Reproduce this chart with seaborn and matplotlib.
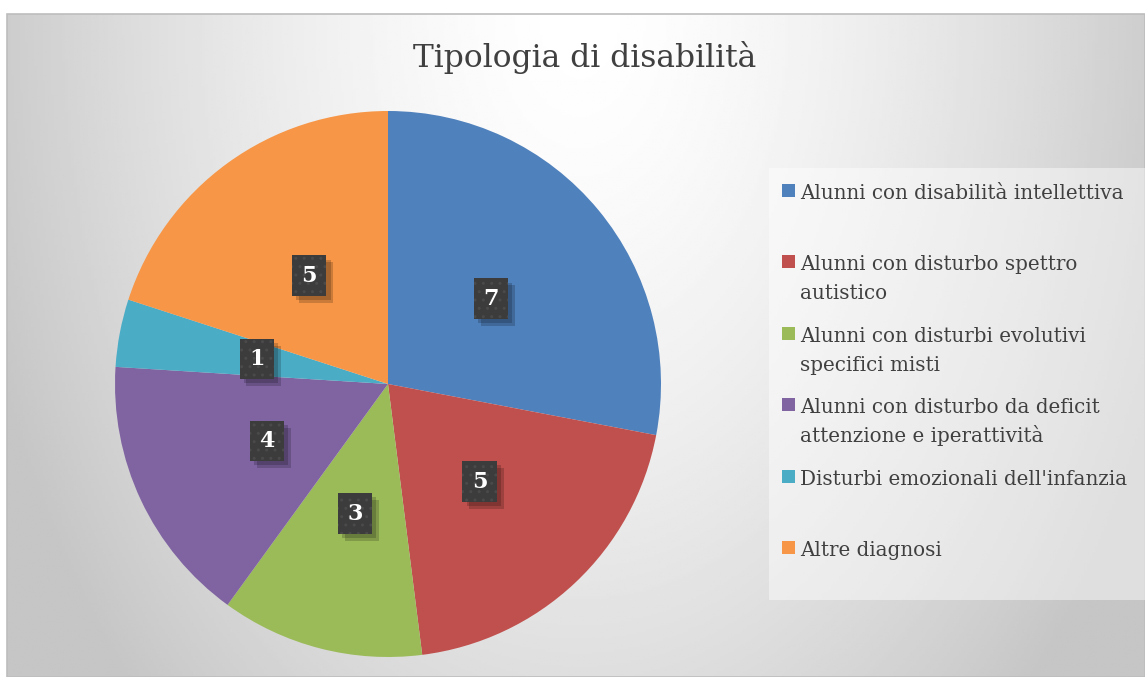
import numpy as np
import matplotlib
matplotlib.use("Agg")
import matplotlib.pyplot as plt
import matplotlib.patheffects as pe
from matplotlib.patches import Rectangle
import seaborn as sns

# dati
categorie = [
    "Alunni con disabilità intellettiva",
    "Alunni con disturbo spettro\nautistico",
    "Alunni con disturbi evolutivi\nspecifici misti",
    "Alunni con disturbo da deficit\nattenzione e iperattività",
    "Disturbi emozionali dell'infanzia",
    "Altre diagnosi",
]
valori = [7, 5, 3, 4, 1, 5]
colori = ["#4F81BD", "#C0504D", "#9BBB59", "#8064A2", "#4BACC6", "#F79646"]
titolo = "Tipologia di disabilità"

sns.set_style("white")
plt.rcParams["font.family"] = ["DejaVu Serif"]

W, H = 1145, 677
fig = plt.figure(figsize=(W / 100, H / 100), dpi=100)

# sfondo con gradiente
bg = fig.add_axes([0, 0, 1, 1])
bg.set_xlim(0, W)
bg.set_ylim(H, 0)
bg.axis("off")
x0, y0, x1, y1 = 7, 14, W, H
xx, yy = np.meshgrid(np.linspace(x0, x1, 400), np.linspace(y0, y1, 300))
dx = np.abs(xx - 580) / 573
dy = (yy - y0) / (y1 - y0)
r = np.sqrt(dx ** 2 + (0.75 * dy) ** 2)
val = np.clip(255 - 50 * r ** 1.5, 198, 255) / 255
bg.imshow(val, cmap="gray", vmin=0, vmax=1, extent=[x0, x1, y1, y0], aspect="auto", zorder=0)
bg.add_patch(Rectangle((x0, y0), x1 - x0, y1 - y0, fill=False, edgecolor="#bdbdbd", lw=1.2, zorder=1))

# riquadro legenda
bg.add_patch(Rectangle((769, 168), W - 769, 432, facecolor="white", alpha=0.45, edgecolor="none", zorder=2))

# torta
cx, cy, rad = 388, 384, 273
ax = fig.add_axes([(cx - rad) / W, (H - cy - rad) / H, 2 * rad / W, 2 * rad / H])
totale = sum(valori)
wedges, texts, autotexts = ax.pie(
    valori, colors=colori, startangle=90, counterclock=False,
    autopct=lambda p: f"{round(p * totale / 100)}", pctdistance=0.49,
    wedgeprops=dict(linewidth=0),
)
ax.set_xlim(-1, 1)
ax.set_ylim(-1, 1)
ax.set_aspect("auto")
ax.axis("off")

for t in autotexts:
    t.set_color("white")
    t.set_fontsize(16)
    t.set_fontweight("bold")
    t.set_bbox(dict(boxstyle="square,pad=0.42", facecolor="#3c3c3c", edgecolor="#4a4a4a",
                    hatch="..", linewidth=0))
    t.get_bbox_patch().set_path_effects([
        pe.PathPatchEffect(offset=(5, -5), facecolor="#000000", edgecolor="none", alpha=0.18),
        pe.PathPatchEffect(offset=(3, -3), facecolor="#000000", edgecolor="none", alpha=0.18),
        pe.Normal(),
    ])

# titolo
fig.text(585 / W, 1 - 57 / H, titolo, ha="center", va="center", fontsize=22.6, color="#404040")

# legenda
for i, (lab, col) in enumerate(zip(categorie, colori)):
    base = 199 + i * 71.4
    bg.add_patch(Rectangle((782, base - 15), 13, 13, facecolor=col, edgecolor="none", zorder=3))
    for j, riga in enumerate(lab.split("\n")):
        bg.text(800, base + j * 29, riga, ha="left", va="baseline", fontsize=14.3,
                color="#404040", zorder=3)

fig.savefig("out.png", dpi=100)
